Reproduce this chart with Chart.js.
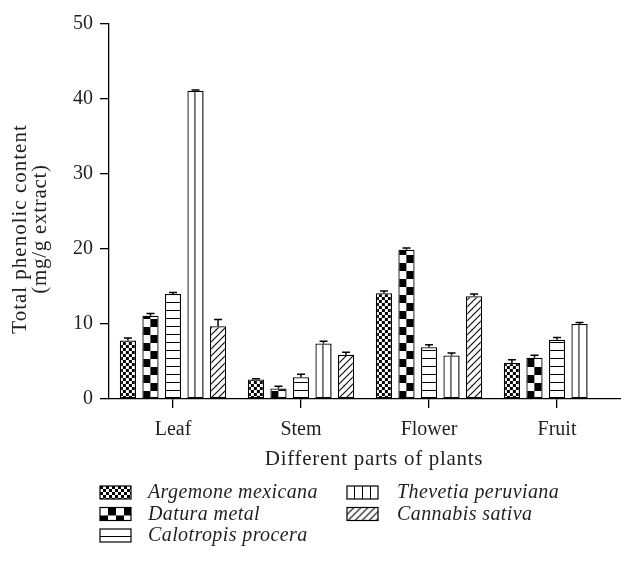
<!DOCTYPE html>
<html>
<head>
<meta charset="utf-8">
<script src="https://cdn.jsdelivr.net/npm/chart.js@4.4.1/dist/chart.umd.min.js"></script>
<style>
  html, body { margin: 0; padding: 0; background: #fff; }
  #wrap { width: 621px; height: 582px; }
</style>
</head>
<body>
<div id="wrap"><canvas id="phenolicChart" width="621" height="582"></canvas></div>
<script>
// data
var categories = ['Leaf', 'Stem', 'Flower', 'Fruit'];
var species = ['Argemone mexicana', 'Datura metal', 'Calotropis procera', 'Thevetia peruviana', 'Cannabis sativa'];
var argemoneVals   = [7.8, 2.6, 14.1, 4.8];
var daturaVals     = [11.1, 1.4, 19.9, 5.5];
var calotropisVals = [14.0, 2.9, 6.9, 7.9];
var thevetiaVals   = [41.1, 7.4, 5.8, 10.0];
var cannabisVals   = [9.7, 5.9, 13.7, null];
var argemoneErr    = [0.35, 0.1, 0.3, 0.45];
var daturaErr      = [0.3, 0.3, 0.25, 0.35];
var calotropisErr  = [0.2, 0.4, 0.35, 0.3];
var thevetiaErr    = [0.1, 0.3, 0.35, 0.2];
var cannabisErr    = [0.9, 0.35, 0.3, null];
var yTicks = [0, 10, 20, 30, 40, 50];

var FONT = 'Liberation Serif';
var INK = '#231f20';
var CAT_PCT = 0.88;
var BAR_PCT = 0.72;

// pattern tiles
function makeTile(kind) {
  var c = document.createElement('canvas');
  var g = c.getContext('2d');
  var s;
  if (kind == 'small') s = 6;
  else if (kind == 'big') s = 16;
  else if (kind == 'diag') s = 7;
  else s = 8;
  c.width = s; c.height = s;
  g.fillStyle = '#fff';
  g.fillRect(0, 0, s, s);
  g.fillStyle = '#000';
  g.strokeStyle = '#000';
  if (kind == 'small') {
    g.fillRect(0, 0, 3, 3);
    g.fillRect(3, 3, 3, 3);
  } else if (kind == 'big') {
    g.fillRect(8, 0, 8, 8);
    g.fillRect(0, 8, 8, 8);
  } else if (kind == 'hlines') {
    g.fillRect(0, 7, 8, 1);
  } else if (kind == 'vlines') {
    g.fillRect(7, 0, 1, 8);
  } else if (kind == 'diag') {
    g.lineWidth = 1.1;
    [0, 7, 14].forEach(function(k){
      g.beginPath();
      g.moveTo(k + 1, -1);
      g.lineTo(k - 8, 8);
      g.stroke();
    });
  }
  return c;
}
var kinds = ['small', 'big', 'hlines', 'vlines', 'diag'];
var tiles = {};
kinds.forEach(function(k){ tiles[k] = makeTile(k); });

function barLeft(chart, di, idx) {
  var xs = chart.scales.x;
  var cat = xs.getPixelForValue(idx);
  var catW = xs.width / categories.length;
  var slot = catW * CAT_PCT / species.length;
  return cat - slot * species.length / 2 + slot * di + slot * (1 - BAR_PCT) / 2;
}

function fillFor(kind, di) {
  return function(c) {
    var chart = c.chart;
    if (c.type !== 'data' || !chart.scales.x || !chart.chartArea) return '#fff';
    var p = chart.ctx.createPattern(tiles[kind], 'repeat');
    var left = barLeft(chart, di, c.dataIndex);
    p.setTransform(new DOMMatrix([1, 0, 0, 1, left, chart.chartArea.bottom]));
    return p;
  };
}

var vals = [argemoneVals, daturaVals, calotropisVals, thevetiaVals, cannabisVals];
var errs = [argemoneErr, daturaErr, calotropisErr, thevetiaErr, cannabisErr];

var datasets = species.map(function(name, i){
  return {
    label: name,
    data: vals[i],
    errorPlus: errs[i],
    backgroundColor: fillFor(kinds[i], i),
    borderColor: '#000',
    borderWidth: 1.3,
    borderSkipped: false,
    categoryPercentage: CAT_PCT,
    barPercentage: BAR_PCT
  };
});

var errorBars = {
  id: 'errorBars',
  afterDatasetsDraw: function(chart) {
    var ctx = chart.ctx;
    var ys = chart.scales.y;
    ctx.save();
    ctx.strokeStyle = '#000';
    ctx.lineWidth = 1.5;
    chart.data.datasets.forEach(function(ds, di){
      var meta = chart.getDatasetMeta(di);
      meta.data.forEach(function(bar, i){
        var v = ds.data[i], e = ds.errorPlus[i];
        if (v == null || e == null) return;
        var y0 = ys.getPixelForValue(v);
        var y1 = ys.getPixelForValue(v + e);
        ctx.beginPath();
        ctx.moveTo(bar.x, y0);
        ctx.lineTo(bar.x, y1);
        ctx.moveTo(bar.x - 4, y1);
        ctx.lineTo(bar.x + 4, y1);
        ctx.stroke();
      });
    });
    ctx.restore();
  }
};

// axis titles (drawn by hand so they can be tracked out a little like the original)
var axisTitles = {
  id: 'axisTitles',
  afterDraw: function(chart) {
    var ctx = chart.ctx;
    ctx.save();
    ctx.fillStyle = INK;
    ctx.font = '21px "' + FONT + '"';
    ctx.textAlign = 'center';
    ctx.textBaseline = 'middle';
    ctx.letterSpacing = '0.7px';
    ctx.fillText('Different parts of plants', 374, 459);
    ctx.translate(20, 229);
    ctx.rotate(-Math.PI / 2);
    ctx.letterSpacing = '1px';
    ctx.fillText('Total phenolic content', 0, 0);
    ctx.letterSpacing = '0.7px';
    ctx.fillText('(mg/g extract)', 0, 20);
    ctx.restore();
  }
};

var speciesLegend = {
  id: 'speciesLegend',
  afterDraw: function(chart) {
    var ctx = chart.ctx;
    var cols = [{box: 100, text: 148}, {box: 347, text: 397}];
    var rows = [486, 507.5, 529];
    ctx.save();
    ctx.font = 'italic 20px "' + FONT + '"';
    ctx.letterSpacing = '0.4px';
    ctx.textBaseline = 'middle';
    species.forEach(function(name, i){
      var col = cols[i < 3 ? 0 : 1];
      var top = rows[i < 3 ? i : i - 3];
      var p = ctx.createPattern(tiles[kinds[i]], 'repeat');
      p.setTransform(new DOMMatrix([1, 0, 0, 1, col.box, top]));
      ctx.fillStyle = p;
      ctx.fillRect(col.box, top, 31, 13);
      ctx.strokeStyle = '#000';
      ctx.lineWidth = 1.2;
      ctx.strokeRect(col.box, top, 31, 13);
      ctx.fillStyle = INK;
      ctx.fillText(name, col.text, top + 7);
    });
    ctx.restore();
  }
};

var ctx = document.getElementById('phenolicChart');
var phenolicChart = new Chart(ctx, {
  type: 'bar',
  data: { labels: categories, datasets: datasets },
  options: {
    responsive: false,
    animation: false,
    devicePixelRatio: 1,
    layout: { padding: { top: 24, right: 0, bottom: 113, left: 0 } },
    plugins: {
      legend: { display: false },
      tooltip: { enabled: false }
    },
    scales: {
      x: {
        grid: { display: true, drawOnChartArea: false, offset: false, tickLength: 9, color: '#000', lineWidth: 1.3 },
        border: { display: true, color: '#000', width: 1.3 },
        ticks: { color: INK, font: { family: FONT, size: 20 }, padding: 10 },
        afterFit: function(s){ s.height = 70; }
      },
      y: {
        min: yTicks[0],
        max: yTicks[yTicks.length - 1],
        ticks: { stepSize: yTicks[1] - yTicks[0], color: INK, font: { family: FONT, size: 20 }, padding: 7 },
        grid: { display: true, drawOnChartArea: false, tickLength: 9, color: '#000', lineWidth: 1.3 },
        border: { display: true, color: '#000', width: 1.3 },
        afterFit: function(s){ s.width = 109; }
      }
    }
  },
  plugins: [errorBars, axisTitles, speciesLegend]
});
</script>
</body>
</html>
